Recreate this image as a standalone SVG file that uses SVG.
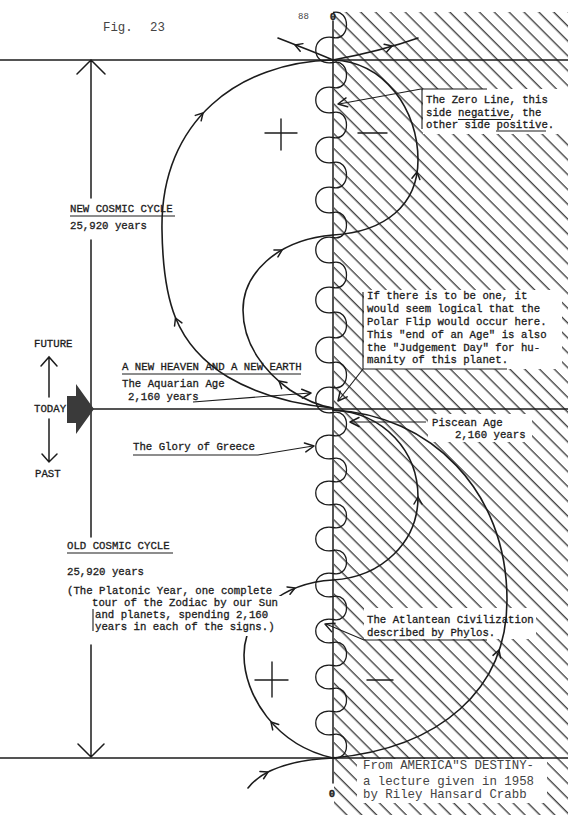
<svg xmlns="http://www.w3.org/2000/svg" width="568" height="815" viewBox="0 0 568 815">
<defs>
<style>
.t{font-family:"Liberation Mono","Courier New",monospace;font-size:10.7px;fill:#1c1c1c;stroke:#1c1c1c;stroke-width:0.3}
.t2{font-family:"Liberation Mono","Courier New",monospace;font-size:12.4px;fill:#444}
.ln{fill:none;stroke:#1c1c1c;stroke-width:1.5;stroke-linecap:round}
.cv{fill:none;stroke:#1c1c1c;stroke-width:1.6;stroke-linecap:round;stroke-linejoin:round}
.wave{fill:none;stroke:#1c1c1c;stroke-width:1.3}
.ah{fill:none;stroke:#1c1c1c;stroke-width:1.5;stroke-linecap:round;stroke-linejoin:round}
.thin{fill:none;stroke:#1c1c1c;stroke-width:1.1}
.sign{fill:none;stroke:#1c1c1c;stroke-width:1.4;stroke-linecap:round}
</style>
<pattern id="hatch" patternUnits="userSpaceOnUse" width="10.5" height="10.5" patternTransform="rotate(-45)">
<line x1="5" y1="0" x2="5" y2="10.5" stroke="#262626" stroke-width="1.2"/>
</pattern>
<path id="ah" d="M-7,-4 L0,0 L-7,4"/>
<path id="al" d="M-9,-4.5 L0,0 L-9,4.5"/>
</defs>
<rect width="568" height="815" fill="#fff"/>
<g id="background">
<rect x="334" y="12" width="234" height="803" fill="url(#hatch)"/>
<rect x="423" y="89" width="145" height="45" fill="#fff"/>
<rect x="364" y="290" width="198" height="79" fill="#fff"/>
<rect x="428" y="414" width="104" height="28" fill="#fff"/>
<rect x="364" y="608" width="172" height="31" fill="#fff"/>
<rect x="357" y="759" width="190" height="44" fill="#fff"/>
</g>
<g id="connectors">
<path class="ln" d="M0,60 H568 M93,409 H568 M0,758 H568"/>
<path class="ln" d="M333,21 V783"/>
<path class="ln" d="M91,60 V198 M91,240 V537 M91,645 V757 M77,74 L91,60 L105,74 M78,744 L91,757 L104,744"/>
<path class="wave" d="M333,12.5 C351,8.5 351,41.5 333,37.5 C310,33.5 310,66.5 333,62.5 C351,58.5 351,91.5 333,87.5 C310,83.5 310,116.5 333,112.5 C351,108.5 351,141.5 333,137.5 C310,133.5 310,166.5 333,162.5 C351,158.5 351,191.5 333,187.5 C310,183.5 310,216.5 333,212.5 C351,208.5 351,241.5 333,237.5 C310,233.5 310,266.5 333,262.5 C351,258.5 351,291.5 333,287.5 C310,283.5 310,316.5 333,312.5 C351,308.5 351,341.5 333,337.5 C310,333.5 310,366.5 333,362.5 C351,358.5 351,391.5 333,387.5 C310,383.5 310,416.5 333,412.5 C351,408.5 351,439.5 333,435.5 C310,431.5 310,462.5 333,458.5 C351,454.5 351,485.5 333,481.5 C310,477.5 310,508.5 333,504.5 C351,500.5 351,531.5 333,527.5 C310,523.5 310,554.5 333,550.5 C351,546.5 351,577.5 333,573.5 C310,569.5 310,600.5 333,596.5 C351,592.5 351,623.5 333,619.5 C310,615.5 310,646.5 333,642.5 C351,638.5 351,669.5 333,665.5 C310,661.5 310,692.5 333,688.5 C351,684.5 351,715.5 333,711.5 C310,707.5 310,738.5 333,734.5 C351,730.5 351,761.5 333,757.5"/>
<path class="cv" d="M333,60 C240,62 160,120 162,230 C163,300 175,345 228,377 C260,396 300,405 333,408"/>
<path class="cv" d="M333,235 C275,240 243,275 243,310 C243,345 265,372 290,390 C305,400 320,406 333,408"/>
<path class="cv" d="M333,60 C385,62 418,110 418,160 C418,205 385,232 333,235"/>
<path class="cv" d="M333,410 C385,413 418,452 418,497 C418,542 382,577 333,580"/>
<path class="cv" d="M333,410 C430,415 507,490 507,600 C507,690 440,748 333,758"/>
<path class="cv" d="M333,580 C282,583 244,615 244,655 C244,695 275,745 333,758"/>
<path class="cv" d="M333,60 C315,52 298,46 278,38"/>
<path class="cv" d="M333,60 C360,55 390,48 418,38"/>
<path class="cv" d="M248,788 C262,770 290,760 333,758"/>
<use href="#ah" class="ah" transform="translate(203,113) rotate(-47)"/>
<use href="#ah" class="ah" transform="translate(175.5,318) rotate(-113)"/>
<use href="#ah" class="ah" transform="translate(282,250) rotate(-30)"/>
<use href="#ah" class="ah" transform="translate(279,381) rotate(-139)"/>
<use href="#ah" class="ah" transform="translate(417,172) rotate(-81)"/>
<use href="#ah" class="ah" transform="translate(418,497) rotate(-90)"/>
<use href="#ah" class="ah" transform="translate(499,650) rotate(-71.5)"/>
<use href="#ah" class="ah" transform="translate(295,588) rotate(-22)"/>
<use href="#ah" class="ah" transform="translate(271,722) rotate(-132)"/>
<use href="#ah" class="ah" transform="translate(295,45) rotate(-160)"/>
<use href="#ah" class="ah" transform="translate(392,46) rotate(-18)"/>
<use href="#ah" class="ah" transform="translate(268,772) rotate(-27)"/>
<path class="thin" d="M487,89 H421 L339,104"/>
<use href="#al" class="ah" transform="translate(338,104) rotate(169.6)"/>
<path class="thin" d="M363,369 L338,401"/>
<use href="#al" class="ah" transform="translate(338,401) rotate(129)"/>
<path class="thin" d="M426,422 H351"/>
<use href="#al" class="ah" transform="translate(350,422) rotate(180)"/>
<path class="thin" d="M133,455 H258 L313,446"/>
<use href="#al" class="ah" transform="translate(314,446) rotate(-9)"/>
<path class="thin" d="M193,402 L310,393"/>
<use href="#al" class="ah" transform="translate(311,393) rotate(-4.4)"/>
<path class="thin" d="M487,640 H364 L326,624"/>
<use href="#al" class="ah" transform="translate(325,624) rotate(-157.2)"/>
</g>
<g id="signs">
<path class="sign" d="M265,133 H297 M281,119 V150 M358,133 H387"/>
<path class="sign" d="M255,680 H288 M272,662 V697 M367,680 H393"/>
</g>
<g id="fig-label">
<text class="t2" x="103" y="31">Fig.<tspan x="150">23</tspan></text>
<text class="t2" x="298" y="19" style="font-size:9px">88</text>
</g>
<g id="zero-top"><text class="t" x="333" y="20" text-anchor="middle" style="font-weight:bold">0</text></g>
<g id="zero-bottom"><text class="t" x="332" y="797" text-anchor="middle" style="font-weight:bold">0</text></g>
<g id="zero-line-note">
<path class="thin" d="M422,89 V129"/>
<text class="t" x="426" y="103">The Zero Line, this</text>
<text class="t" x="426" y="115.5">side negative, the</text>
<text class="t" x="426" y="128">other side positive.</text>
<path class="thin" d="M458,119.5 H511 M496,131 H546"/>
</g>
<g id="new-cosmic-cycle">
<text class="t" x="70" y="212">NEW COSMIC CYCLE</text>
<path class="thin" d="M70,216 H175"/>
<text class="t" x="70" y="229">25,920 years</text>
</g>
<g id="polar-flip-note">
<path class="thin" d="M363,292 V369 H507"/>
<text class="t" x="367" y="299">If there is to be one, it</text>
<text class="t" x="367" y="312">would seem logical that the</text>
<text class="t" x="367" y="325">Polar Flip would occur here.</text>
<text class="t" x="367" y="338">This "end of an Age" is also</text>
<text class="t" x="367" y="351">the "Judgement Day" for hu-</text>
<text class="t" x="367" y="363">manity of this planet.</text>
</g>
<g id="time-arrows">
<text class="t" x="34" y="347">FUTURE</text>
<path class="ln" d="M49,397 V357 M41,366 L49,357 L57,366"/>
<text class="t" x="34" y="412">TODAY</text>
<path class="ln" d="M49,419 V462 M42,454 L49,462 L57,454"/>
<text class="t" x="35" y="477">PAST</text>
</g>
<g id="today-marker">
<polygon points="67,396 76,396 76,384 94,409 76,434 76,423 67,423" fill="#3a3a3a"/>
</g>
<g id="new-heaven">
<text class="t" x="122" y="370">A NEW HEAVEN AND A NEW EARTH</text>
<path class="thin" d="M122,374 H301"/>
</g>
<g id="aquarian-age">
<text class="t" x="122" y="387">The Aquarian Age</text>
<text class="t" x="128" y="400">2,160 years</text>
</g>
<g id="piscean-age">
<text class="t" x="432" y="426">Piscean Age</text>
<text class="t" x="455" y="438">2,160 years</text>
</g>
<g id="glory-of-greece">
<text class="t" x="133" y="450">The Glory of Greece</text>
</g>
<g id="old-cosmic-cycle">
<text class="t" x="67" y="549">OLD COSMIC CYCLE</text>
<path class="thin" d="M67,553 H173"/>
<text class="t" x="67" y="575">25,920 years</text>
</g>
<g id="platonic-year">
<rect x="94" y="596" width="192" height="40" fill="#fff"/>
<path class="thin" d="M93,609 V631"/>
<text class="t" x="67" y="594">(The Platonic Year, one complete</text>
<text class="t" x="92" y="606">tour of the Zodiac by our Sun</text>
<text class="t" x="95" y="618">and planets, spending 2,160</text>
<text class="t" x="95" y="630">years in each of the signs.)</text>
</g>
<g id="atlantean">
<text class="t" x="367" y="623">The Atlantean Civilization</text>
<text class="t" x="367" y="636">described by Phylos.</text>
</g>
<g id="source-note">
<text class="t2" x="363" y="769">From AMERICA"S DESTINY-</text>
<text class="t2" x="363" y="785">a lecture given in 1958</text>
<text class="t2" x="363" y="798">by Riley Hansard Crabb</text>
</g>
</svg>
